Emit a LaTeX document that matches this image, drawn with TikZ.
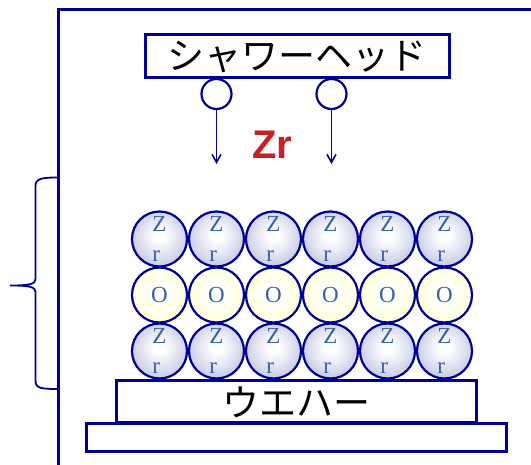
\documentclass[tikz,border=0pt]{standalone}
\usepackage{fontspec}
\setmainfont{Liberation Serif}
\newfontfamily\jpfont{Noto Sans CJK JP}
\newfontfamily\elemfont{Liberation Sans}
\usetikzlibrary{arrows.meta}

\definecolor{navy}{RGB}{0,0,150}
\definecolor{zrred}{RGB}{200,32,36}
\definecolor{atomtext}{RGB}{58,98,160}
\definecolor{zrlight}{RGB}{212,215,235}
\definecolor{zrmid}{RGB}{160,166,206}
\definecolor{zredge}{RGB}{118,126,182}
\definecolor{olight}{RGB}{255,255,220}
\definecolor{omid}{RGB}{252,252,190}
\definecolor{oedge}{RGB}{244,244,150}

% sphere shadings for the two kinds of atoms
\pgfdeclareradialshading{zrball}{\pgfpoint{0bp}{4bp}}{%
  color(0bp)=(white); color(5bp)=(white); color(22bp)=(zrlight); color(40bp)=(zrmid); color(50bp)=(zredge)}
\pgfdeclareradialshading{oball}{\pgfpoint{0bp}{2bp}}{%
  color(0bp)=(white); color(6bp)=(white); color(24bp)=(olight); color(40bp)=(omid); color(50bp)=(oedge)}

\tikzset{
  x=1pt, y=-1pt,
  wall/.style={draw=navy, line width=3pt},
  box/.style={draw=navy, line width=3pt, fill=white, rectangle, inner sep=0pt,
    font=\jpfont\fontsize{37}{37}\selectfont},
  nozzle/.style={draw=navy, line width=2.2pt, circle, minimum size=30pt, inner sep=0pt, fill=white},
  flow/.style={draw=navy, line width=1.6pt, -{Straight Barb[length=8pt,width=9pt]}},
  atom/.style={draw=navy, line width=2.2pt, circle, minimum size=55pt, inner sep=0pt,
    text=atomtext, font=\fontsize{23}{30}\selectfont},
  zratom/.style={atom, shading=zrball, align=left},
  oatom/.style={atom, shading=oball},
  bracket/.style={draw=navy, line width=1.8pt},
}

\begin{document}
\begin{tikzpicture}
\useasboundingbox (0,0) rectangle (531,465);

% chamber wall
\draw[wall] (531,10) -- (58.5,10) -- (58.5,465);

% bracket on the left of the wall
\draw[bracket] (58.5,177.5) .. controls (42,177.5) and (35.5,178.5) .. (35.5,186)
  -- (35.5,279) .. controls (35.5,284) and (30,285.5) .. (10,285.5)
  .. controls (30,285.5) and (35.5,287) .. (35.5,292)
  -- (35.5,381) .. controls (35.5,388.5) and (42,389) .. (58.5,389);

% shower head with its two nozzles
\node[box, minimum width=304pt, minimum height=43pt] (head) at (297,56.5) {シャワーヘッド};
\node[nozzle] (n1) at (216.5,94) {};
\node[nozzle] (n2) at (331.5,94) {};
\coordinate (f1) at (216.5,164);
\coordinate (f2) at (331.5,164);
\draw[flow] (n1.south) -- (f1);
\draw[flow] (n2.south) -- (f2);
\node[text=zrred, font=\elemfont\bfseries\fontsize{40}{40}\selectfont] (zr) at (272.5,145) {Zr};

% stage and wafer
\node[box, minimum width=420pt, minimum height=28pt] (stage) at (296,437.5) {};
\node[box, minimum width=360.5pt, minimum height=42pt] (wafer) at (296.5,402) {ウエハー};

% deposited layers: Zr / O / Zr
\foreach \i in {0,...,5} {
  \pgfmathsetmacro{\cx}{159.5+57*\i}
  \node[zratom] (top\i) at (\cx,239) {Z\\r};
  \node[oatom]  (mid\i) at (\cx,295) {O};
  \node[zratom] (bot\i) at (\cx,351) {Z\\r};
}
\end{tikzpicture}
\end{document}
